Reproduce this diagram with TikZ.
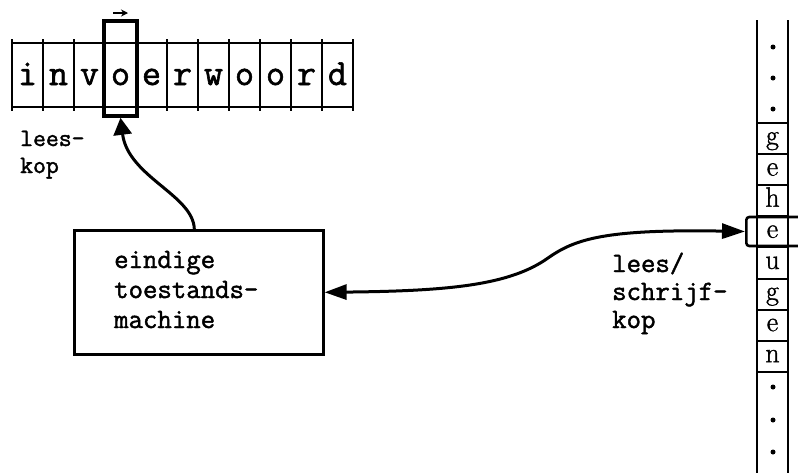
\documentclass[tikz,border=0pt]{standalone}
\usepackage{fontspec}
\setmonofont{Latin Modern Mono}[FakeBold=1.6]
\newfontfamily\memfont{Latin Modern Roman}[FakeBold=1.2]
\usetikzlibrary{arrows.meta}
\begin{document}
\begin{tikzpicture}[x=1pt,y=-1pt,
  tape/.style={line width=2pt},
  headbox/.style={draw, line width=3.6pt, minimum width=33pt, minimum height=95pt, inner sep=0pt},
  cellchar/.style={font=\ttfamily\fontsize{37}{37}\selectfont, inner sep=0pt, anchor=base},
  memchar/.style={font=\memfont\fontsize{28}{28}\selectfont, inner sep=0pt, anchor=base},
  textline/.style={font=\ttfamily\fontsize{28}{28}\selectfont, inner sep=0pt, anchor=base west},
  smalltext/.style={font=\ttfamily\fontsize{25}{25}\selectfont, inner sep=0pt, anchor=base west},
  link/.style={line width=3pt, line cap=round},
  tapedot/.style={circle, fill, inner sep=0pt, minimum size=5pt}
]
\useasboundingbox (0,0) rectangle (798,472);
\clip (0,0) rectangle (798,472);

% input tape
\draw[tape] (12,43) -- (353,43) (12,107) -- (353,107);
\foreach \i in {0,...,11} \draw[tape] ({12+31*\i},39) -- ({12+31*\i},111);
\foreach \c [count=\i from 0] in {i,n,v,o,e,r,w,o,o,r,d}
  \node[cellchar] (in\i) at ({27.5+31*\i},85) {\c};

% read head with its direction of motion
\node[headbox] (rh) at (120.5,68.5) {};
\coordinate (mvA) at (113,13);
\coordinate (mvB) at (128,13);
\draw[line width=1.8pt, -{Stealth[length=7pt,width=7pt]}] (mvA) -- (mvB);

\node[smalltext] (rl1) at (20,146) {lees-};
\node[smalltext] (rl2) at (20,173) {kop};

% finite control
\node[draw, line width=2.6pt, minimum width=249pt, minimum height=124pt,
      inner sep=0pt, anchor=north west] (sm) at (73,229) {};
\node[textline] (sm1) at (114,268) {eindige};
\node[textline] (sm2) at (114,298) {toestands-};
\node[textline] (sm3) at (114,328) {machine};

% memory tape
\draw[tape] (757,20) -- (757,480) (788,20) -- (788,480);
\foreach \k in {0,...,8} \draw[tape] (757,{123+31.1*\k}) -- (788,{123+31.1*\k});
\foreach \c [count=\k from 0] in {g,e,h,e,u,g,e,n}
  \node[memchar] (m\k) at (772.5,{123+31.1*\k+21.5}) {\c};
\foreach \y [count=\k] in {47,78,109,387,420,452}
  \node[tapedot] (d\k) at (773,\y) {};

% read/write head
\node[draw, line width=2.6pt, rounded corners=3pt, minimum width=80pt,
      minimum height=29pt, inner sep=0pt, anchor=west] (wh) at (745,231.5) {};
\node[textline] (wl1) at (612,272) {lees/};
\node[textline] (wl2) at (612,300) {schrijf-};
\node[textline] (wl3) at (612,328) {kop};

% connections
\draw[link, -{Triangle[length=17pt,width=18pt]}] ([xshift=-4.5pt]sm.north)
  .. controls +(-1,-34) and +(7.5,59) .. (rh.south);
\draw[link, {Triangle[length=22pt,width=15pt]}-{Triangle[length=23pt,width=15pt]}] (sm.east)
  .. controls (450,291) and (510,285) .. (548,258)
  .. controls (575,239) and (605,229) .. (wh.west);
\end{tikzpicture}
\end{document}
